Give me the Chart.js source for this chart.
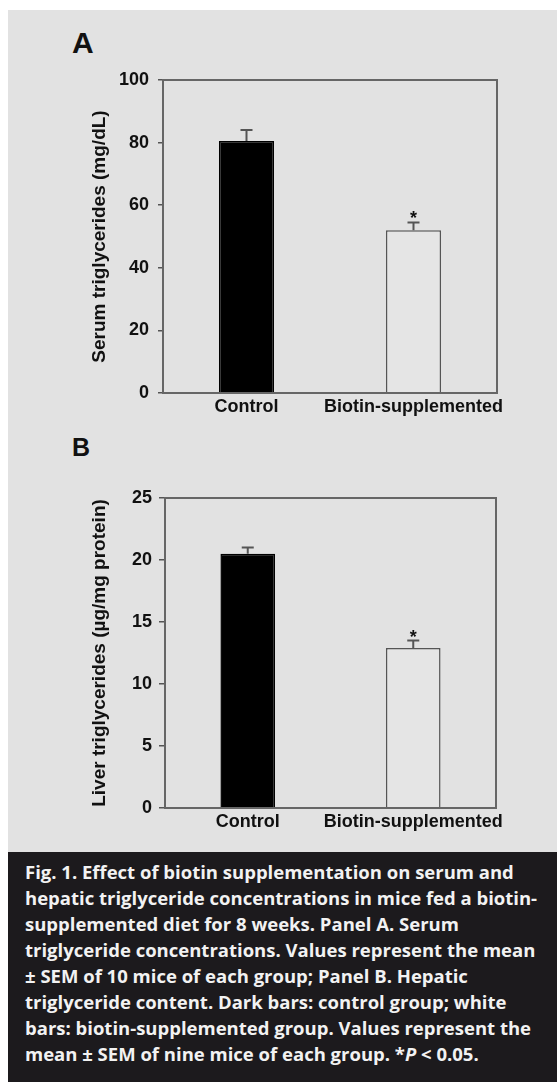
<!DOCTYPE html>
<html>
<head>
<meta charset="utf-8">
<script src="https://cdn.jsdelivr.net/npm/chart.js@4.4.1/dist/chart.umd.min.js"></script>
<style>
  body { margin: 0; background: #fff; width: 557px; height: 1082px; position: relative; overflow: hidden; }
  #panel { position: absolute; left: 8px; top: 10px; width: 549px; height: 842px; background: #e2e2e2; }
  canvas { position: absolute; left: 0; }
  .letter { position: absolute; left: 64px; font-family: "Liberation Sans", Arial, sans-serif; font-weight: bold; color: #111; }
  #caption {
    position: absolute; left: 8px; top: 852px; width: 549px; height: 230px; background: #1c1a1d;
    box-sizing: border-box; padding: 7px 0 0 17px;
    font-family: "Open Sans", sans-serif; font-weight: bold; font-size: 18.5px; line-height: 26px;
    color: #f2f2f2; white-space: nowrap;
  }
</style>
</head>
<body>
<div id="panel">
  <div class="letter" style="top:18px; font-size:30px; line-height:30px;">A</div>
  <canvas id="grafiksA" width="549" height="420" style="top:0"></canvas>
  <div class="letter" style="top:425px; font-size:25px; line-height:25px;">B</div>
  <canvas id="grafiksB" width="549" height="422" style="top:420px"></canvas>
</div>
<div id="caption">
  Fig. 1. Effect of biotin supplementation on serum and<br>
  hepatic triglyceride concentrations in mice fed a biotin-<br>
  supplemented diet for 8 weeks. Panel A. Serum<br>
  triglyceride concentrations. Values represent the mean<br>
  ± SEM of 10 mice of each group; Panel B. Hepatic<br>
  triglyceride content. Dark bars: control group; white<br>
  bars: biotin-supplemented group. Values represent the<br>
  mean ± SEM of nine mice of each group. *<i>P</i> &lt; 0.05.
</div>

<script>
// data
const groups = ['Control', 'Biotin-supplemented'];
const serumMean = [80.5, 52];
const serumSem = [3.5, 2.5];
const liverMean = [20.5, 12.9];
const liverSem = [0.5, 0.6];
const significant = [false, true];
const serumTicks = [0, 20, 40, 60, 80, 100];
const liverTicks = [0, 5, 10, 15, 20, 25];

// error bars (upper half only), asterisk and the box around the plot
const errorBars = {
    id: 'errorBars',
    afterDatasetsDraw(chart, args, opts) {
        const ctx = chart.ctx;
        const y = chart.scales.y;
        const values = chart.data.datasets[0].data;
        ctx.save();
        ctx.strokeStyle = '#555';
        ctx.lineWidth = 2;
        chart.getDatasetMeta(0).data.forEach((bar, i) => {
            const top = y.getPixelForValue(values[i] + opts.sem[i]);
            ctx.beginPath();
            ctx.moveTo(bar.x, bar.y);
            ctx.lineTo(bar.x, top);
            ctx.moveTo(bar.x - 6, top);
            ctx.lineTo(bar.x + 6, top);
            ctx.stroke();
            if (significant[i]) {
                ctx.fillStyle = '#111';
                ctx.font = 'bold 18px "Liberation Sans", Arial, sans-serif';
                ctx.textAlign = 'center';
                ctx.textBaseline = 'alphabetic';
                ctx.fillText('*', bar.x, top + 2);
            }
        });
        const a = chart.chartArea;
        ctx.strokeStyle = '#666';
        ctx.strokeRect(a.left, a.top, a.right - a.left, a.bottom - a.top);
        ctx.restore();
    }
};

function zimet(canvas, mean, sem, ticks, title, pad, axisW, axisH, tickLen, tickPad) {
    return new Chart(canvas, {
        type: 'bar',
        data: {
            labels: groups,
            datasets: [{
                data: mean,
                backgroundColor: ['#000', '#e5e5e5'],
                borderColor: ['#000', '#555'],
                borderWidth: 1.5,
                categoryPercentage: 1,
                barPercentage: 0.33
            }]
        },
        options: {
            responsive: false,
            animation: false,
            layout: { padding: pad },
            plugins: {
                legend: { display: false },
                tooltip: { enabled: false },
                errorBars: { sem: sem }
            },
            scales: {
                x: {
                    grid: { display: false, drawTicks: false },
                    border: { display: false },
                    ticks: {
                        color: '#111', padding: 3, autoSkip: false, maxRotation: 0, minRotation: 0,
                        font: { family: '"Liberation Sans", Arial', size: 18, weight: 'bold' }
                    },
                    afterFit: s => { s.height = axisH; }
                },
                y: {
                    min: ticks[0],
                    max: ticks[ticks.length - 1],
                    afterBuildTicks: s => { s.ticks = ticks.map(v => ({ value: v })); },
                    afterFit: s => { s.width = axisW; },
                    grid: { drawOnChartArea: false, tickLength: tickLen, color: '#555', lineWidth: 1.5 },
                    border: { display: false },
                    ticks: { color: '#111', padding: tickPad, font: { family: '"Liberation Sans", Arial', size: 18, weight: 'bold' } },
                    title: {
                        display: true,
                        text: title,
                        color: '#111',
                        padding: { top: 80, bottom: 0 },
                        font: { family: '"Liberation Sans", Arial', size: 19, weight: 'bold' }
                    }
                }
            }
        },
        plugins: [errorBars]
    });
}

zimet(document.getElementById('grafiksA'), serumMean, serumSem, serumTicks,
    'Serum triglycerides (mg/dL)', { left: 0, right: 60, top: 70, bottom: 0 }, 155, 37, 5, 9);
zimet(document.getElementById('grafiksB'), liverMean, liverSem, liverTicks,
    'Liver triglycerides (µg/mg protein)', { left: 0, right: 61, top: 68, bottom: 0 }, 157, 44, 6, 7);
</script>
</body>
</html>
